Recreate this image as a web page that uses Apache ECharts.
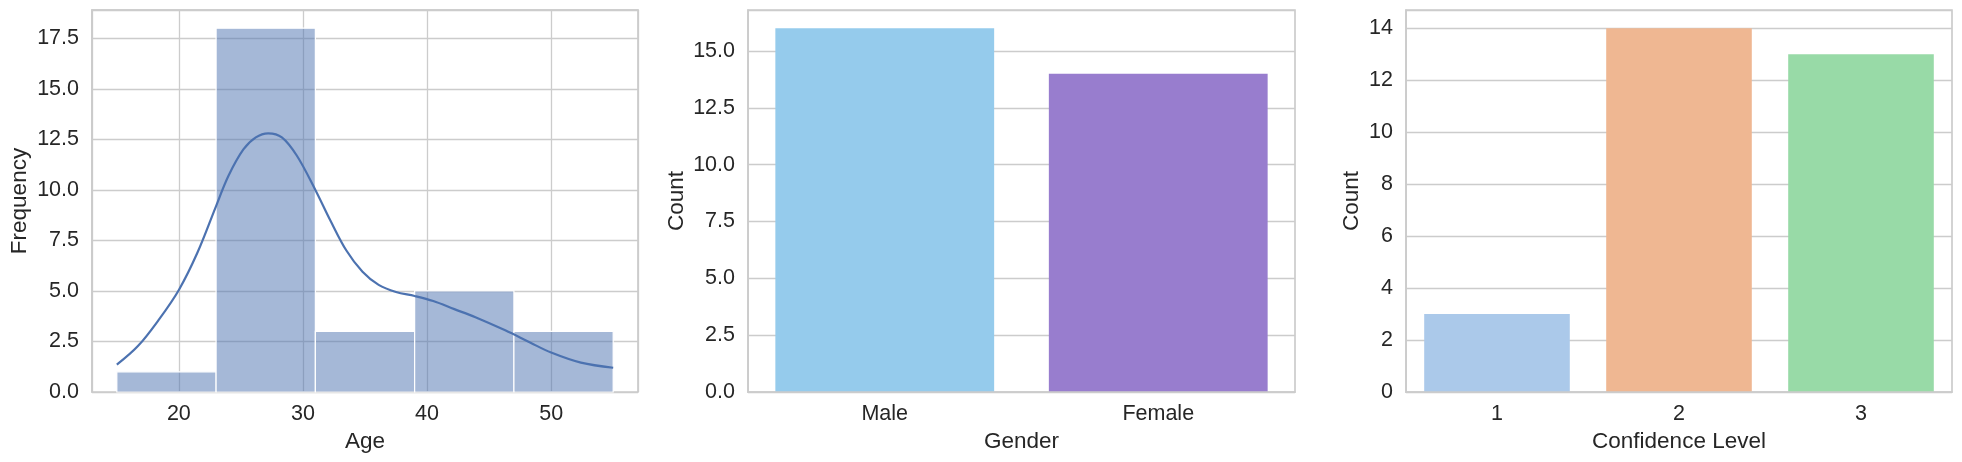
<!DOCTYPE html>
<html><head><meta charset="utf-8">
<script src="https://cdn.jsdelivr.net/npm/echarts@6/dist/echarts.min.js"></script>
<style>html,body{margin:0;padding:0;background:#fff}#c{width:1962px;height:462px}</style>
</head><body><div id="c"></div>
<script>
// ---- data ----
const ageBinEdges = [15, 23, 31, 39, 47, 55];
const ageCounts = [1, 18, 3, 5, 3];
const kdeX = [15, 16.7, 18.4, 20, 21.5, 23, 24, 25.2, 26.2, 27.2, 28.3, 29.5, 31, 32.2, 33.5, 34.8, 36.1, 37.5, 39, 40.5, 42.2, 43.9, 46.3, 48.3, 50, 52.4, 55];
const kdeY = [1.35, 2.27, 3.59, 5.05, 6.9, 9.2, 10.7, 12.0, 12.6, 12.8, 12.6, 11.7, 10.0, 8.5, 7.0, 5.95, 5.3, 4.95, 4.75, 4.5, 4.1, 3.7, 3.05, 2.45, 1.95, 1.45, 1.2];
const genderCategories = ['Male', 'Female'];
const genderCounts = [16, 14];
const confidenceCategories = ['1', '2', '3'];
const confidenceCounts = [3, 14, 13];

// ---- styles ----
const FONT = '"Liberation Sans", Arial, sans-serif';
const TXT = '#262626';
const GRIDC = '#cccccc';
const TICK_FS = 21.5;
const NAME_FS = 22.5;
const genderColors = ['#95CBEC', '#987DCE'];
const confColors = ['#ABC9EA', '#EFB792', '#98DAA7'];

const chart = echarts.init(document.getElementById('c'), null, {renderer: 'canvas'});

function gridCfg(left, right) {
  return {left, right, top: 10, bottom: 70, show: true, borderColor: GRIDC, borderWidth: 1.7,
    backgroundColor: 'transparent', containLabel: false, outerBoundsMode: 'none'};
}
function yAxisCfg(gridIndex, max, interval, name, nameGap, decimals) {
  return {
    type: 'value', gridIndex, min: 0, max, interval, name, nameLocation: 'middle', nameGap,
    nameTextStyle: {fontFamily: FONT, fontSize: NAME_FS, color: TXT},
    axisLine: {show: true, lineStyle: {color: GRIDC, width: 1.7}},
    axisTick: {show: false},
    axisLabel: {margin: 13, fontFamily: FONT, fontSize: TICK_FS, color: TXT, showMaxLabel: false,
      formatter: v => v.toFixed(decimals)},
    splitLine: {show: true, lineStyle: {color: GRIDC, width: 1.3}}
  };
}
function catXAxis(gridIndex, data, name) {
  return {
    type: 'category', gridIndex, data, name, nameLocation: 'middle', nameGap: 36, z: 5,
    nameTextStyle: {fontFamily: FONT, fontSize: NAME_FS, color: TXT},
    axisLine: {show: true, lineStyle: {color: GRIDC, width: 1.7}},
    axisTick: {show: false},
    axisLabel: {margin: 11, fontFamily: FONT, fontSize: TICK_FS, color: TXT},
    splitLine: {show: false}
  };
}

const option = {
  animation: false,
  backgroundColor: '#ffffff',
  grid: [gridCfg(92, 1324), gridCfg(748, 667), gridCfg(1406, 10)],
  xAxis: [
    {
      type: 'value', gridIndex: 0, min: 13, max: 57, splitNumber: 4,
      name: 'Age', nameLocation: 'middle', nameGap: 36,
      nameTextStyle: {fontFamily: FONT, fontSize: NAME_FS, color: TXT},
      axisLine: {show: false}, axisTick: {show: false},
      axisLabel: {margin: 11, fontFamily: FONT, fontSize: TICK_FS, color: TXT, showMinLabel: false, showMaxLabel: false},
      splitLine: {show: true, lineStyle: {color: GRIDC, width: 1.3}}
    },
    {
      type: 'value', gridIndex: 0, min: 13, max: 57, z: 5,
      axisLine: {show: true, lineStyle: {color: GRIDC, width: 1.7}},
      axisTick: {show: false}, axisLabel: {show: false}, splitLine: {show: false}
    },
    catXAxis(1, genderCategories, 'Gender'),
    catXAxis(2, confidenceCategories, 'Confidence Level')
  ],
  yAxis: [
    yAxisCfg(0, 18.9, 2.5, 'Frequency', 61, 1),
    yAxisCfg(1, 16.8, 2.5, 'Count', 60, 1),
    yAxisCfg(2, 14.7, 2, 'Count', 43, 0)
  ],
  series: [
    {
      type: 'custom', xAxisIndex: 0, yAxisIndex: 0,
      data: ageCounts.map((c, i) => [ageBinEdges[i], ageBinEdges[i + 1], c]),
      encode: {x: [0, 1], y: 2},
      renderItem: (params, api) => {
        const p0 = api.coord([api.value(0), api.value(2)]);
        const p1 = api.coord([api.value(1), 0]);
        return {type: 'rect', shape: {x: p0[0], y: p0[1], width: p1[0] - p0[0], height: p1[1] - p0[1]},
          style: {fill: 'rgba(76,114,176,0.5)', stroke: '#ffffff', lineWidth: 1.2}};
      },
      z: 2
    },
    {
      type: 'line', xAxisIndex: 0, yAxisIndex: 0,
      data: kdeX.map((x, i) => [x, kdeY[i]]),
      smooth: 0.35, showSymbol: false, symbol: 'none',
      lineStyle: {color: '#4C72B0', width: 2.2}, z: 3
    },
    {
      type: 'bar', xAxisIndex: 2, yAxisIndex: 1, barWidth: '80%',
      data: genderCounts.map((v, i) => ({value: v, itemStyle: {color: genderColors[i]}}))
    },
    {
      type: 'bar', xAxisIndex: 3, yAxisIndex: 2, barWidth: '80%',
      data: confidenceCounts.map((v, i) => ({value: v, itemStyle: {color: confColors[i]}}))
    }
  ]
};
chart.setOption(option);
</script>
</body></html>
